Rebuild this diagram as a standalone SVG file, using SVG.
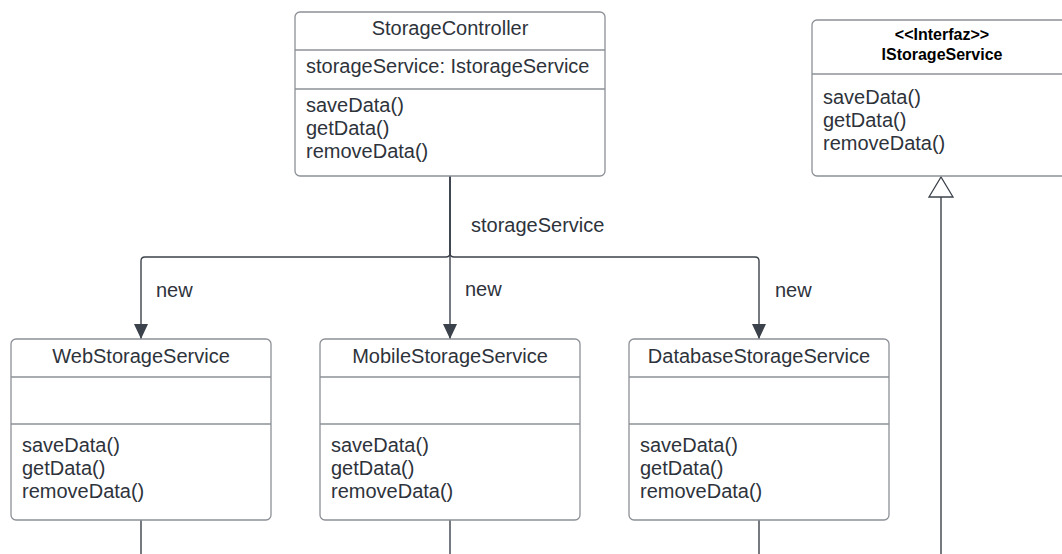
<svg xmlns="http://www.w3.org/2000/svg" width="1062" height="554" viewBox="0 0 1062 554">
  <style>
    .box { fill: #ffffff; stroke: #8c9096; stroke-width: 1.3; }
    .div { stroke: #8c9096; stroke-width: 1.3; }
    .t { font-family: "Liberation Sans", Arial, sans-serif; font-size: 20px; fill: #2e333b; }
    .c { text-anchor: middle; }
    .b { font-weight: bold; font-size: 16px; fill: #000000; }
    .wire { fill: none; stroke: #3c424b; stroke-width: 1.4; }
  </style>
  <defs>
    <marker id="arrow" markerWidth="16" markerHeight="14" refX="15" refY="7" orient="auto" markerUnits="userSpaceOnUse">
      <path d="M0,0 L15,7 L0,14 Z" fill="#3c424b"/>
    </marker>
    <marker id="realize" markerWidth="30" markerHeight="28" refX="1" refY="13" orient="auto" markerUnits="userSpaceOnUse">
      <path d="M1,1 L21,13 L1,25 Z" fill="#ffffff" stroke="#3c424b" stroke-width="1.3"/>
    </marker>
  </defs>

  <!-- connectors -->
  <g id="connectors">
    <path class="wire" d="M450,176 V253 Q450,257 446,257 H145 Q141,257 141,261 V339" marker-end="url(#arrow)"/>
    <path class="wire" d="M450,176 V339" marker-end="url(#arrow)"/>
    <path class="wire" d="M450,176 V253 Q450,257 454,257 H755 Q759,257 759,261 V339" marker-end="url(#arrow)"/>
    <path class="wire" d="M141,520 V554"/>
    <path class="wire" d="M450,520 V554"/>
    <path class="wire" d="M759,520 V554"/>
    <path class="wire" d="M941,554 V197" marker-end="url(#realize)"/>
    <text class="t" x="471" y="232">storageService</text>
    <text class="t" x="156" y="297">new</text>
    <text class="t" x="465" y="296">new</text>
    <text class="t" x="775" y="297">new</text>
  </g>

  <!-- StorageController -->
  <g id="storage-controller">
    <rect class="box" x="295" y="12" width="310" height="164" rx="5"/>
    <line class="div" x1="295" y1="50" x2="605" y2="50"/>
    <line class="div" x1="295" y1="89" x2="605" y2="89"/>
    <text class="t c" x="450" y="35">StorageController</text>
    <text class="t" x="306" y="73">storageService: IstorageService</text>
    <text class="t" x="306" y="112">saveData()</text>
    <text class="t" x="306" y="135">getData()</text>
    <text class="t" x="306" y="158">removeData()</text>
  </g>

  <!-- IStorageService interface -->
  <g id="istorage-service">
    <rect class="box" x="812" y="20" width="262" height="156" rx="5"/>
    <line class="div" x1="812" y1="74" x2="1074" y2="74"/>
    <text class="t c b" x="942" y="40">&lt;&lt;Interfaz&gt;&gt;</text>
    <text class="t c b" x="942" y="60">IStorageService</text>
    <text class="t" x="823" y="104">saveData()</text>
    <text class="t" x="823" y="127">getData()</text>
    <text class="t" x="823" y="150">removeData()</text>
  </g>

  <!-- WebStorageService -->
  <g id="web-storage-service">
    <rect class="box" x="11" y="339" width="260" height="181" rx="5"/>
    <line class="div" x1="11" y1="377" x2="271" y2="377"/>
    <line class="div" x1="11" y1="424" x2="271" y2="424"/>
    <text class="t c" x="141" y="363">WebStorageService</text>
    <text class="t" x="22" y="452">saveData()</text>
    <text class="t" x="22" y="475">getData()</text>
    <text class="t" x="22" y="498">removeData()</text>
  </g>

  <!-- MobileStorageService -->
  <g id="mobile-storage-service">
    <rect class="box" x="320" y="339" width="260" height="181" rx="5"/>
    <line class="div" x1="320" y1="377" x2="580" y2="377"/>
    <line class="div" x1="320" y1="424" x2="580" y2="424"/>
    <text class="t c" x="450" y="363">MobileStorageService</text>
    <text class="t" x="331" y="452">saveData()</text>
    <text class="t" x="331" y="475">getData()</text>
    <text class="t" x="331" y="498">removeData()</text>
  </g>

  <!-- DatabaseStorageService -->
  <g id="database-storage-service">
    <rect class="box" x="629" y="339" width="260" height="181" rx="5"/>
    <line class="div" x1="629" y1="377" x2="889" y2="377"/>
    <line class="div" x1="629" y1="424" x2="889" y2="424"/>
    <text class="t c" x="759" y="363">DatabaseStorageService</text>
    <text class="t" x="640" y="452">saveData()</text>
    <text class="t" x="640" y="475">getData()</text>
    <text class="t" x="640" y="498">removeData()</text>
  </g>
</svg>
